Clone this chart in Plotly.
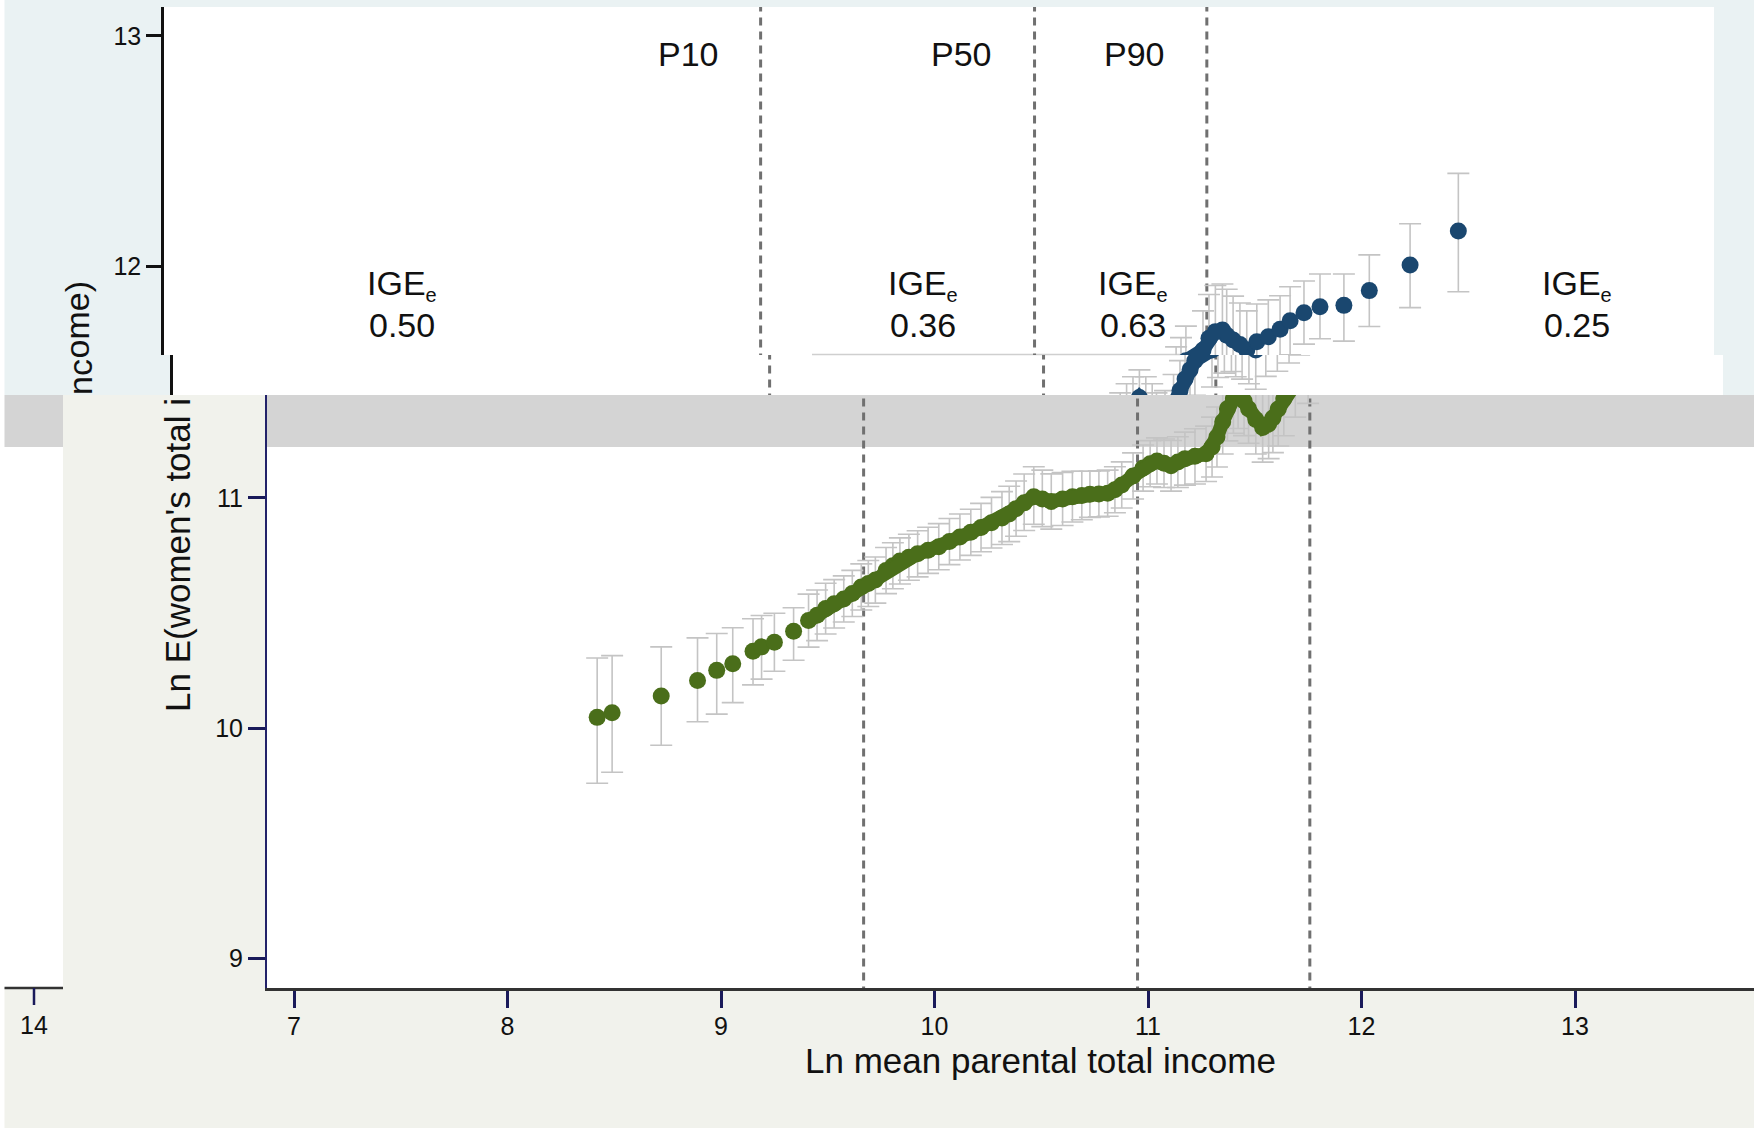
import plotly.graph_objects as go

W, H = 1754, 1128
FONT = "Liberation Sans, Arial, sans-serif"

# ---------------- data ----------------
PCTL_LABELS = ["P10", "P50", "P90"]
PCTL_X = [9.668, 10.951, 11.758]
PCTL_LABEL_X = [9.33, 10.61, 11.42]
IGE_VALUES = ["0.50", "0.36", "0.63", "0.25"]
IGE_X = [7.99, 10.43, 11.41, 13.49]

# women (green, lower chart)
green_x = [8.42, 8.49, 8.72, 8.89, 8.98, 9.055, 9.15, 9.19, 9.25, 9.34,
           9.41, 9.45, 9.49, 9.53, 9.575, 9.615, 9.657, 9.69, 9.723, 9.773,
           9.805, 9.838, 9.88, 9.921, 9.97, 10.02, 10.07, 10.119, 10.17, 10.218,
           10.267, 10.316, 10.35, 10.382, 10.42, 10.465, 10.505, 10.547, 10.6, 10.646,
           10.69, 10.728, 10.77, 10.811, 10.845, 10.877, 10.93, 10.977, 11.01, 11.042,
           11.075, 11.108, 11.14, 11.173, 11.22, 11.272, 11.30, 11.323, 11.35, 11.372,
           11.40, 11.422, 11.45, 11.471, 11.505, 11.537, 11.565, 11.585, 11.61, 11.636,
           11.69, 11.75]
green_y = [10.047, 10.067, 10.140, 10.207, 10.251, 10.280, 10.334, 10.353, 10.373, 10.421,
           10.467, 10.49, 10.519, 10.54, 10.561, 10.585, 10.613, 10.628, 10.643, 10.684,
           10.705, 10.726, 10.742, 10.757, 10.772, 10.788, 10.81, 10.830, 10.85, 10.871,
           10.892, 10.912, 10.93, 10.953, 10.978, 11.005, 10.995, 10.984, 10.995, 11.005,
           11.01, 11.015, 11.017, 11.020, 11.035, 11.056, 11.095, 11.129, 11.148, 11.160,
           11.15, 11.139, 11.155, 11.170, 11.18, 11.191, 11.22, 11.264, 11.33, 11.387,
           11.43, 11.451, 11.42, 11.387, 11.34, 11.305, 11.32, 11.346, 11.385, 11.429,
           11.51, 11.58]
green_eplus = [0.258, 0.248, 0.213, 0.185, 0.16, 0.156, 0.141, 0.136, 0.126, 0.102,
               0.115, 0.11, 0.11, 0.105, 0.10, 0.10, 0.10, 0.10, 0.10, 0.10,
               0.10, 0.10, 0.10, 0.10, 0.10, 0.10, 0.10, 0.10, 0.10, 0.105,
               0.11, 0.115, 0.12, 0.12, 0.125, 0.13, 0.125, 0.12, 0.115, 0.11,
               0.105, 0.10, 0.10, 0.10, 0.10, 0.10, 0.10, 0.10, 0.10, 0.10,
               0.105, 0.11, 0.11, 0.115, 0.12, 0.12, 0.13, 0.13, 0.14, 0.14,
               0.15, 0.15, 0.15, 0.15, 0.15, 0.15, 0.15, 0.15, 0.16, 0.16,
               0.16, 0.17]
green_eminus = [0.286, 0.258, 0.214, 0.179, 0.19, 0.169, 0.146, 0.14, 0.126, 0.126,
                0.115, 0.11, 0.11, 0.105, 0.10, 0.10, 0.10, 0.10, 0.10, 0.10,
                0.10, 0.10, 0.10, 0.10, 0.10, 0.10, 0.10, 0.10, 0.10, 0.105,
                0.11, 0.115, 0.12, 0.12, 0.12, 0.12, 0.12, 0.12, 0.115, 0.11,
                0.105, 0.10, 0.10, 0.10, 0.10, 0.10, 0.10, 0.10, 0.10, 0.10,
                0.105, 0.11, 0.11, 0.115, 0.12, 0.12, 0.13, 0.13, 0.14, 0.14,
                0.15, 0.15, 0.15, 0.15, 0.15, 0.15, 0.15, 0.15, 0.16, 0.16,
                0.16, 0.17]
GREEN_DENSE_START = 10

# men (blue, upper chart)
blue_x = [11.31, 11.34, 11.37, 11.40, 11.43, 11.46, 11.48, 11.52, 11.56, 11.59,
          11.614, 11.637, 11.66, 11.74, 11.768, 11.798, 11.831, 11.851, 11.881, 11.913,
          11.945, 11.992, 12.046, 12.101, 12.148, 12.213, 12.288, 12.40, 12.519, 12.71,
          12.936]
blue_y = [11.33, 11.37, 11.40, 11.43, 11.40, 11.37, 11.33, 11.33, 11.40, 11.46,
          11.51, 11.55, 11.59, 11.636, 11.687, 11.716, 11.723, 11.70, 11.68, 11.66,
          11.636, 11.672, 11.694, 11.726, 11.763, 11.798, 11.824, 11.830, 11.894, 12.005,
          12.153]
blue_eplus = [0.12, 0.12, 0.12, 0.12, 0.12, 0.12, 0.12, 0.13, 0.13, 0.13,
              0.14, 0.14, 0.15, 0.17, 0.19, 0.20, 0.20, 0.20, 0.19, 0.18,
              0.17, 0.164, 0.16, 0.146, 0.148, 0.138, 0.142, 0.136, 0.155, 0.179,
              0.25]
blue_eminus = [0.12, 0.12, 0.12, 0.12, 0.12, 0.12, 0.12, 0.13, 0.13, 0.13,
               0.14, 0.14, 0.15, 0.16, 0.17, 0.18, 0.18, 0.18, 0.17, 0.17,
               0.17, 0.15, 0.15, 0.146, 0.148, 0.136, 0.139, 0.155, 0.156, 0.185,
               0.264]
BLUE_DENSE_END = 21

# ---------------- geometry helpers (pixel -> axis / paper) ----------------
def xA(p): return 7 + (p - 191) / 213.5
def yA(p): return 13 - (p - 35.8) / 230.4
def xB(p): return 7 + (p - 294) / 213.5
def yB(p): return 11 - (p - 497.8) / 230.4
def fx(p): return p / W
def fy(p): return 1 - p / H

BLUE = "#1a476f"
GREEN = "#4a6e1a"
ERR = "#c4c4c4"
DASH = "#707070"
LIGHTBLUE = "#eaf2f3"
BEIGE = "#f1f2ec"
GRAYBAND = "#d4d4d4"

fig = go.Figure()

panels = [
    ("x", "y", yA(355), yA(7)),
    ("x2", "y2", yA(395), yA(355)),
    ("x3", "y3", yB(988), yB(395)),
]

# dashed percentile lines
for xr, yr, lo, hi in panels:
    for v in PCTL_X:
        fig.add_trace(go.Scatter(x=[v, v], y=[lo - 1, hi + 1], xaxis=xr, yaxis=yr,
                                 mode="lines", line=dict(color=DASH, width=3, dash="8px,6px"),
                                 hoverinfo="skip", showlegend=False))

def err(plus, minus):
    return dict(type="data", symmetric=False, array=plus, arrayminus=minus,
                color=ERR, thickness=1.6, width=11)

# blue series in both strips of the upper chart
for xr, yr in (("x", "y"), ("x2", "y2")):
    fig.add_trace(go.Scatter(x=blue_x, y=blue_y, xaxis=xr, yaxis=yr, mode="markers",
                             marker=dict(size=17, color=BLUE), error_y=err(blue_eplus, blue_eminus),
                             hoverinfo="skip", showlegend=False))
    fig.add_trace(go.Scatter(x=blue_x[:BLUE_DENSE_END], y=blue_y[:BLUE_DENSE_END], xaxis=xr, yaxis=yr,
                             mode="lines", line=dict(color=BLUE, width=14),
                             hoverinfo="skip", showlegend=False))

# green series
fig.add_trace(go.Scatter(x=green_x, y=green_y, xaxis="x3", yaxis="y3", mode="markers",
                         marker=dict(size=17, color=GREEN), error_y=err(green_eplus, green_eminus),
                         hoverinfo="skip", showlegend=False))
fig.add_trace(go.Scatter(x=green_x[GREEN_DENSE_START:], y=green_y[GREEN_DENSE_START:],
                         xaxis="x3", yaxis="y3", mode="lines", line=dict(color=GREEN, width=14),
                         hoverinfo="skip", showlegend=False))

def rect(x0, y0, x1, y1, color):
    return dict(type="rect", xref="paper", yref="paper", x0=fx(x0), x1=fx(x1), y0=fy(y1), y1=fy(y0),
                fillcolor=color, line=dict(width=0), layer="below")

def seg(x0, y0, x1, y1, color, w):
    return dict(type="line", xref="paper", yref="paper", x0=fx(x0), x1=fx(x1), y0=fy(y0), y1=fy(y1),
                line=dict(color=color, width=w), layer="below")

shapes = [
    rect(4.5, 0, W, 395, LIGHTBLUE),
    rect(164, 7, 1714, 355, "white"),
    rect(173, 355, 1723, 395, "white"),
    rect(4.5, 395, W, 447, GRAYBAND),
    rect(63, 395, 267, H, BEIGE),
    rect(4.5, 988, W, H, BEIGE),
    rect(4.5, 447, 63, 988, "white"),
    rect(267, 447, W, 988, "white"),
    seg(812, 354.5, 1180, 354.5, "#cfcfcf", 1.5),
    seg(4.5, 988, 63, 988, "#333333", 2.5),
    seg(34, 988, 34, 1005, "#1a1a5a", 2.5),
]

def txt(x, y, text, size, xref="paper", yref="paper", angle=0, xa="center", ya="middle"):
    return dict(x=x, y=y, xref=xref, yref=yref, text=text, showarrow=False, textangle=angle,
                xanchor=xa, yanchor=ya, font=dict(size=size, color="#111", family=FONT))

IGE_TEXT = "IGE<sub><span style='font-size:20px'>e</span></sub>"

ann = []
for lab, xv in zip(PCTL_LABELS, PCTL_LABEL_X):
    ann.append(txt(xv, yA(54), lab, 34, "x", "y"))
for val, xv in zip(IGE_VALUES, IGE_X):
    ann.append(txt(xv, yA(285), IGE_TEXT, 34, "x", "y"))
    ann.append(txt(xv, yA(324.5), val, 34, "x", "y"))

ann += [
    txt(fx(1040.8), fy(1060), "Ln mean parental total income", 35),
    txt(fx(177), fy(714), "Ln E(women's total i", 35, angle=-90, ya="bottom"),
    txt(fx(76), fy(361), "ome)", 34, angle=-90, ya="bottom"),
    txt(fx(80), fy(397), "nc", 34, angle=-90, ya="bottom"),
    txt(fx(34), fy(1024.5), "14", 25),
]

hidden = dict(visible=False, showgrid=False, zeroline=False)
tickfont = dict(size=25, color="#111", family=FONT)

fig.update_layout(
    width=W, height=H, margin=dict(l=0, r=0, t=0, b=0),
    paper_bgcolor="white", plot_bgcolor="rgba(0,0,0,0)",
    showlegend=False, shapes=shapes, annotations=ann,
    xaxis=dict(domain=[fx(164), fx(1714)], range=[xA(164), xA(1714)], anchor="y", **hidden),
    yaxis=dict(domain=[fy(355), fy(7)], range=[yA(355), yA(7)], anchor="x",
               showline=True, linecolor="#111", linewidth=2.5, ticks="outside", ticklen=15,
               tickwidth=2.5, tickcolor="#111", tickvals=[12, 13], tickfont=tickfont,
               showgrid=False, zeroline=False),
    xaxis2=dict(domain=[fx(173), fx(1723)], range=[xA(164), xA(1714)], anchor="y2", **hidden),
    yaxis2=dict(domain=[fy(395), fy(355)], range=[yA(395), yA(355)], anchor="x2",
                showline=True, linecolor="#111", linewidth=2.5, tickvals=[], showticklabels=False,
                showgrid=False, zeroline=False),
    xaxis3=dict(domain=[fx(267), 1.0], range=[xB(267), xB(1754)], anchor="y3",
                showline=True, linecolor="#333", linewidth=2.5, ticks="outside", ticklen=17,
                tickwidth=2.5, tickcolor="#1a1a5a", tickvals=[7, 8, 9, 10, 11, 12, 13],
                tickfont=tickfont, ticklabelstandoff=-3, showgrid=False, zeroline=False),
    yaxis3=dict(domain=[fy(988), fy(395)], range=[yB(988), yB(395)], anchor="x3",
                showline=True, linecolor="#22226a", linewidth=2, ticks="outside", ticklen=17,
                tickwidth=2.5, tickcolor="#1a1a5a", tickvals=[9, 10, 11], tickfont=tickfont,
                showgrid=False, zeroline=False),
)

fig.write_html("out.html")
